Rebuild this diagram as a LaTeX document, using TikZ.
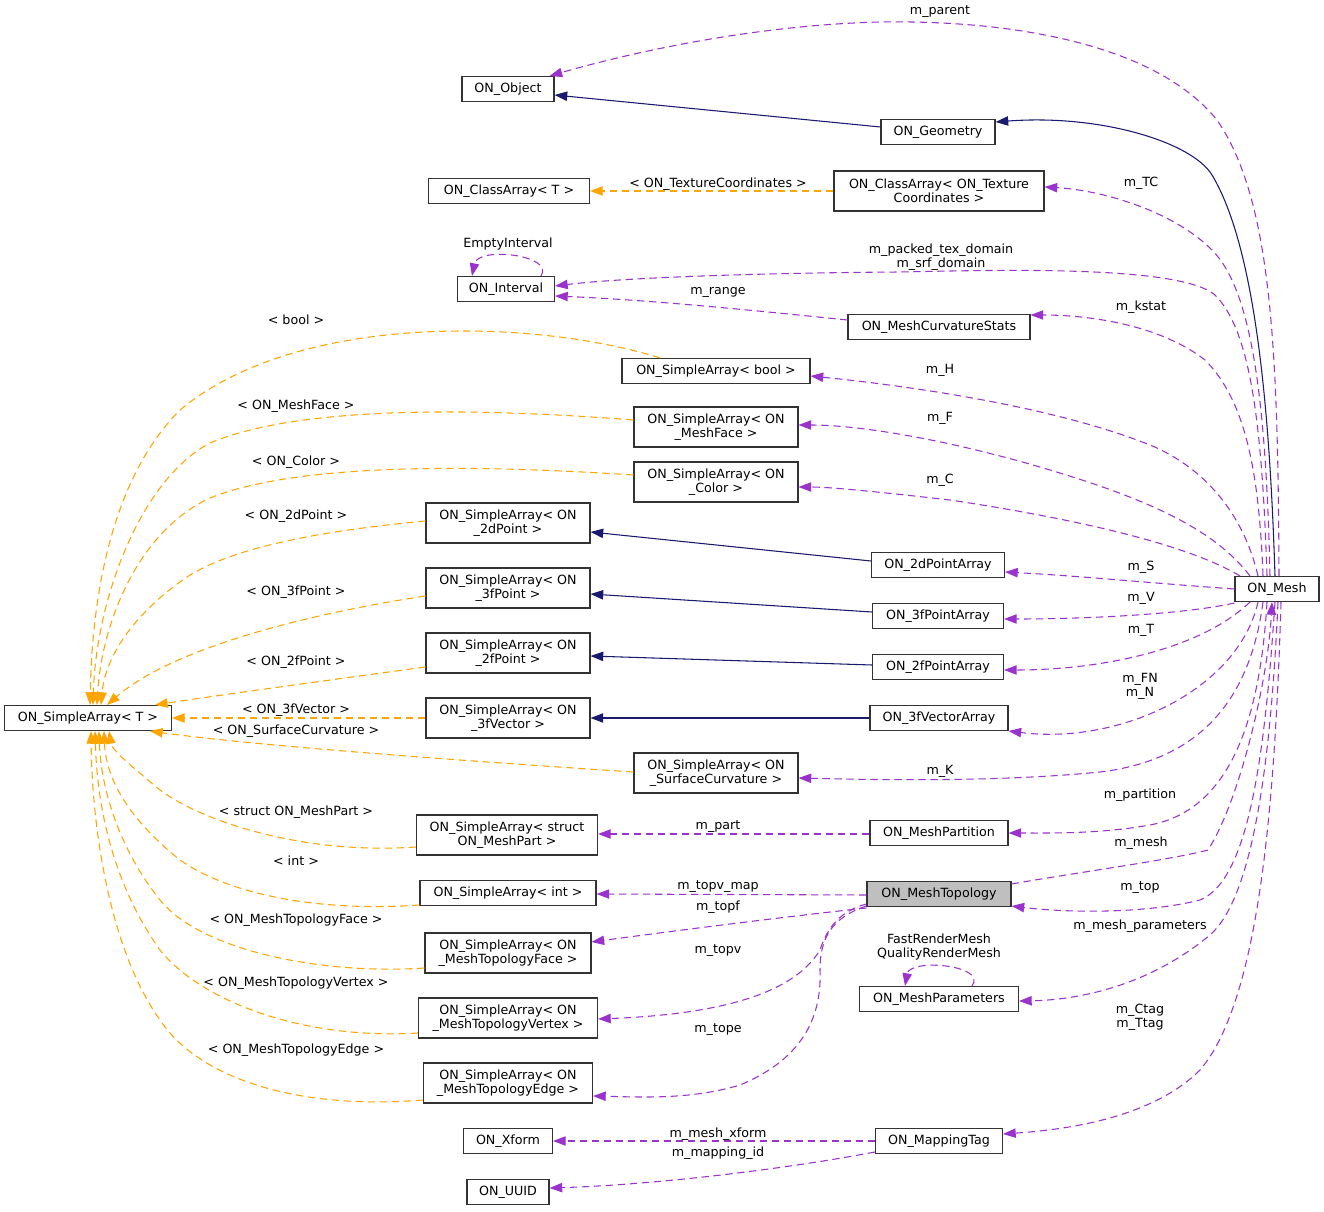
\documentclass[tikz,border=0pt]{standalone}
\usepackage{fontspec}
\setmainfont{DejaVu Sans}
\usetikzlibrary{arrows.meta,calc}
\definecolor{midblue}{HTML}{191970}
\definecolor{orng}{HTML}{FFA500}
\definecolor{purp}{HTML}{9A32CD}
\definecolor{gfill}{HTML}{BFBFBF}
\newcommand\fsz{\fontsize{9.5}{10.5}\selectfont}
\begin{document}
\begin{tikzpicture}[x=0.75pt,y=-0.75pt,
 box/.style={draw=black!80, fill=white, line width=0.8pt, minimum height=18.75pt, inner sep=0pt, align=center, font=\fsz},
 tall/.style={minimum height=30pt},
 wd/.style={minimum width=#1*0.75pt},
 lab/.style={font=\fsz, inner sep=0pt, align=center},
 arr/.style={-{Triangle[length=9.5pt,width=7pt]}},
 inh/.style={draw=midblue, line width=0.8pt, arr},
 mem/.style={draw=purp, line width=0.8pt, dash pattern=on 5.5pt off 3.5pt, arr},
 tmpl/.style={draw=orng, line width=0.8pt, dash pattern=on 5.5pt off 3.5pt, arr},
]
\useasboundingbox (0,0) rectangle (1324,1212);

% nodes
\node[box,wd=92] (obj) at (508,89) {ON\_Object};
\node[box,wd=114] (geo) at (938,132) {ON\_Geometry};
\node[box,wd=161] (carrT) at (509,191) {ON\_ClassArray< T >};
\node[box,tall,wd=210] (carrTC) at (939,191) {ON\_ClassArray< ON\_Texture\\Coordinates >};
\node[box,wd=97] (intv) at (506,289) {ON\_Interval};
\node[box,wd=182] (mcs) at (939,327) {ON\_MeshCurvatureStats};
\node[box,wd=188] (sabool) at (716,371) {ON\_SimpleArray< bool >};
\node[box,tall,wd=164] (saface) at (716,427) {ON\_SimpleArray< ON\\\_MeshFace >};
\node[box,tall,wd=164] (sacolor) at (716,482) {ON\_SimpleArray< ON\\\_Color >};
\node[box,tall,wd=164] (sa2d) at (508,523) {ON\_SimpleArray< ON\\\_2dPoint >};
\node[box,wd=133] (pa2d) at (938,565) {ON\_2dPointArray};
\node[box,tall,wd=164] (sa3f) at (508,588) {ON\_SimpleArray< ON\\\_3fPoint >};
\node[box,wd=131] (pa3f) at (938,616) {ON\_3fPointArray};
\node[box,tall,wd=164] (sa2f) at (508,653) {ON\_SimpleArray< ON\\\_2fPoint >};
\node[box,wd=131] (pa2f) at (938,667) {ON\_2fPointArray};
\node[box,wd=167] (saT) at (88,718) {ON\_SimpleArray< T >};
\node[box,tall,wd=164] (sa3v) at (508,718) {ON\_SimpleArray< ON\\\_3fVector >};
\node[box,wd=138] (va3v) at (939,718) {ON\_3fVectorArray};
\node[box,tall,wd=164] (sasc) at (716,773) {ON\_SimpleArray< ON\\\_SurfaceCurvature >};
\node[box,tall,wd=181] (samp) at (507,835) {ON\_SimpleArray< struct\\ON\_MeshPart >};
\node[box,wd=138] (mpart) at (939,833) {ON\_MeshPartition};
\node[box,wd=176] (saint) at (508,893) {ON\_SimpleArray< int >};
\node[box,wd=144,fill=gfill] (mtop) at (939,894) {ON\_MeshTopology};
\node[box,tall,wd=166] (satf) at (508,953) {ON\_SimpleArray< ON\\\_MeshTopologyFace >};
\node[box,wd=159] (mparam) at (939,999) {ON\_MeshParameters};
\node[box,tall,wd=179] (satv) at (508,1018) {ON\_SimpleArray< ON\\\_MeshTopologyVertex >};
\node[box,tall,wd=169] (sate) at (508,1083) {ON\_SimpleArray< ON\\\_MeshTopologyEdge >};
\node[box,wd=89] (xform) at (508,1141) {ON\_Xform};
\node[box,wd=127] (mtag) at (939,1141) {ON\_MappingTag};
\node[box,wd=82] (uuid) at (508,1192) {ON\_UUID};
\node[box,wd=84] (mesh) at (1277,589) {ON\_Mesh};

% inheritance (blue)
\draw[inh] (geo.west |- 0,127) -- (obj.east |- 0,95);
\draw[inh] (1275,0 |- mesh.north) .. controls (1270,420) and (1257,250) .. (1212,175) .. controls (1192,142) and (1100,114) .. (geo.east |- 0,122);
\draw[inh] (pa2d.west |- 0,561) -- (sa2d.east |- 0,532);
\draw[inh] (pa3f.west |- 0,612) -- (sa3f.east |- 0,594);
\draw[inh] (pa2f.west |- 0,665) -- (sa2f.east |- 0,656);
\draw[inh] (va3v.west) -- (sa3v.east);

% members (purple)
\draw[mem] (1279,0 |- mesh.north) .. controls (1278,350) and (1272,200) .. (1217,120) .. controls (1152,40) and (1000,20) .. (880,22) .. controls (760,25) and (640,50) .. ($(obj.north east)+(-5,0)$);
\node[lab] (lparent) at (940,12) {m\_parent};
\draw[mem] (1270,0 |- mesh.north) .. controls (1266,400) and (1252,290) .. (1212,250) .. controls (1172,210) and (1100,190) .. (carrTC.east |- 0,187);
\node[lab] (lTC) at (1141,183) {m\_TC};
\draw[mem] (1267,0 |- mesh.north) .. controls (1262,420) and (1250,330) .. (1215,295) .. controls (1180,265) and (1000,270) .. (900,272) .. controls (750,273) and (620,278) .. (intv.east |- 0,286);
\node[lab] (ldom) at (941,257) {m\_packed\_tex\_domain\\m\_srf\_domain};
\draw[mem] (mcs.west |- 0,320) .. controls (750,310) and (650,300) .. (intv.east |- 0,296);
\node[lab] (lrange) at (718,292) {m\_range};
\draw[mem] ($(intv.north)+(35,0)$) .. controls (555,255) and (478,246) .. ($(intv.north)+(-34,0)$);
\node[lab] (lempty) at (508,244) {EmptyInterval};
\draw[mem] (1263,0 |- mesh.north) .. controls (1259,470) and (1245,400) .. (1205,360) .. controls (1160,325) and (1090,315) .. (mcs.east |- 0,315);
\node[lab] (lkstat) at (1141,307) {m\_kstat};
\draw[mem] (1258,0 |- mesh.north) .. controls (1245,520) and (1210,470) .. (1150,445) .. controls (1050,405) and (900,385) .. (sabool.east |- 0,376);
\node[lab] (lH) at (940,370) {m\_H};
\draw[mem] (1250,0 |- mesh.north) .. controls (1215,530) and (1150,500) .. (1050,470) .. controls (950,440) and (860,425) .. (saface.east |- 0,425);
\node[lab] (lF) at (940,418) {m\_F};
\draw[mem] (1240,0 |- mesh.north) .. controls (1180,540) and (1050,515) .. (950,500) .. controls (880,492) and (830,487) .. (sacolor.east |- 0,487);
\node[lab] (lC) at (940,480) {m\_C};
\draw[mem] (mesh.west |- 0,589) .. controls (1150,583) and (1080,576) .. (pa2d.east |- 0,572);
\node[lab] (lS) at (1141,567) {m\_S};
\draw[mem] (mesh.west |- 0,603) .. controls (1180,615) and (1080,619) .. (pa3f.east |- 0,619);
\node[lab] (lV) at (1141,598) {m\_V};
\draw[mem] (1250,0 |- mesh.south) .. controls (1200,650) and (1100,670) .. (pa2f.east |- 0,670);
\node[lab] (lT) at (1141,630) {m\_T};
\draw[mem] (1258,0 |- mesh.south) .. controls (1238,690) and (1120,745) .. (va3v.east |- 0,731);
\node[lab] (lFN) at (1140,686) {m\_FN\\m\_N};
\draw[mem] (1263,0 |- mesh.south) .. controls (1250,700) and (1200,760) .. (1100,772) .. controls (1000,782) and (880,780) .. (sasc.east |- 0,778);
\node[lab] (lK) at (940,771) {m\_K};
\draw[mem] (1267,0 |- mesh.south) .. controls (1260,720) and (1230,810) .. (1150,825) .. controls (1100,834) and (1050,833) .. (mpart.east |- 0,833);
\node[lab] (lpartition) at (1140,795) {m\_partition};
\draw[mem] (mtop.east |- 0,884) .. controls (1080,872) and (1170,860) .. (1208,850) .. controls (1240,800) and (1268,680) .. (1272,0 |- mesh.south);
\node[lab] (lmesh) at (1141,843) {m\_mesh};
\draw[mem] (1275,0 |- mesh.south) .. controls (1265,750) and (1250,880) .. (1200,900) .. controls (1140,915) and (1060,912) .. (mtop.east |- 0,906);
\node[lab] (ltop) at (1140,888) {m\_top};
\draw[mem] (1278,0 |- mesh.south) .. controls (1270,780) and (1250,900) .. (1210,935) .. controls (1150,985) and (1080,1000) .. (mparam.east |- 0,1001);
\node[lab] (lmp) at (1140,926) {m\_mesh\_parameters};
\draw[mem] (1281,0 |- mesh.south) .. controls (1275,800) and (1260,1000) .. (1200,1070) .. controls (1150,1120) and (1060,1130) .. (mtag.east |- 0,1134);
\node[lab] (ltag) at (1140,1017) {m\_Ctag\\m\_Ttag};
\draw[mem] (mpart.west |- 0,834) -- (samp.east |- 0,834);
\node[lab] (lpart) at (718,827) {m\_part};
\draw[mem] (mtop.west |- 0,895) -- (saint.east |- 0,894);
\node[lab] (ltopvmap) at (718,887) {m\_topv\_map};
\draw[mem] (mtop.west |- 0,908) .. controls (800,915) and (680,930) .. (satf.east |- 0,942);
\node[lab] (ltopf) at (718,907) {m\_topf};
\draw[mem] (mtop.west |- 0,904) .. controls (835,912) and (825,935) .. (820,950) .. controls (790,1000) and (700,1015) .. (satv.east |- 0,1019);
\node[lab] (ltopv) at (718,951) {m\_topv};
\draw[mem] (mtop.west |- 0,906) .. controls (830,918) and (820,940) .. (820,970) .. controls (822,1020) and (800,1060) .. (740,1085) .. controls (690,1100) and (640,1097) .. (sate.east |- 0,1096);
\node[lab] (ltope) at (718,1030) {m\_tope};
\draw[mem] ($(mparam.north)+(33,0)$) .. controls (988,965) and (910,958) .. ($(mparam.north)+(-34,0)$);
\node[lab] (lrender) at (939,947) {FastRenderMesh\\QualityRenderMesh};
\draw[mem] (mtag.west) -- (xform.east);
\node[lab] (lxform) at (718,1134) {m\_mesh\_xform};
\draw[mem] (mtag.west |- 0,1152) .. controls (780,1170) and (650,1185) .. (uuid.east |- 0,1188);
\node[lab] (lmapid) at (718,1153) {m\_mapping\_id};

% template instances (orange)
\draw[tmpl] (carrTC.west) -- (carrT.east);
\node[lab] (lTCt) at (718,184) {< ON\_TextureCoordinates >};
\draw[tmpl] ($(sabool.north)+(-56,0)$) .. controls (540,320) and (300,310) .. (180,410) .. controls (110,480) and (92,600) .. (90,0 |- saT.north);
\node[lab] (lbool) at (296,320) {< bool >};
\draw[tmpl] (saface.west |- 0,420) .. controls (480,408) and (300,405) .. (210,443) .. controls (140,480) and (96,600) .. (93,0 |- saT.north);
\node[lab] (lface) at (296,406) {< ON\_MeshFace >};
\draw[tmpl] (sacolor.west |- 0,475) .. controls (480,465) and (300,462) .. (210,498) .. controls (140,530) and (102,620) .. (97,0 |- saT.north);
\node[lab] (lcolor) at (296,462) {< ON\_Color >};
\draw[tmpl] (sa2d.west |- 0,521) .. controls (330,530) and (240,545) .. (190,575) .. controls (130,615) and (105,660) .. (101,0 |- saT.north);
\node[lab] (l2d) at (296,516) {< ON\_2dPoint >};
\draw[tmpl] (sa3f.west |- 0,596) .. controls (300,615) and (170,650) .. (107,0 |- saT.north);
\node[lab] (l3f) at (296,592) {< ON\_3fPoint >};
\draw[tmpl] (sa2f.west |- 0,667) .. controls (330,680) and (220,695) .. (155,0 |- saT.north);
\node[lab] (l2f) at (296,662) {< ON\_2fPoint >};
\draw[tmpl] (sa3v.west) -- (saT.east);
\node[lab] (l3v) at (296,710) {< ON\_3fVector >};
\draw[tmpl] (sasc.west |- 0,772) .. controls (450,760) and (250,745) .. (150,0 |- saT.south);
\node[lab] (lsc) at (296,731) {< ON\_SurfaceCurvature >};
\draw[tmpl] (samp.west |- 0,847) .. controls (300,855) and (200,820) .. (160,790) .. controls (130,765) and (112,750) .. (109,0 |- saT.south);
\node[lab] (lmp2) at (296,812) {< struct ON\_MeshPart >};
\draw[tmpl] (saint.west |- 0,905) .. controls (320,912) and (230,895) .. (180,860) .. controls (130,820) and (106,780) .. (104,0 |- saT.south);
\node[lab] (lint) at (296,861) {< int >};
\draw[tmpl] (satf.west |- 0,968) .. controls (320,975) and (200,950) .. (160,900) .. controls (120,850) and (101,790) .. (99,0 |- saT.south);
\node[lab] (ltf) at (296,920) {< ON\_MeshTopologyFace >};
\draw[tmpl] (satv.west |- 0,1033) .. controls (300,1040) and (200,1000) .. (160,950) .. controls (110,880) and (97,800) .. (95,0 |- saT.south);
\node[lab] (ltv) at (296,983) {< ON\_MeshTopologyVertex >};
\draw[tmpl] (sate.west |- 0,1100) .. controls (300,1110) and (200,1080) .. (160,1020) .. controls (110,950) and (92,830) .. (91,0 |- saT.south);
\node[lab] (lte) at (296,1050) {< ON\_MeshTopologyEdge >};
\end{tikzpicture}
\end{document}
